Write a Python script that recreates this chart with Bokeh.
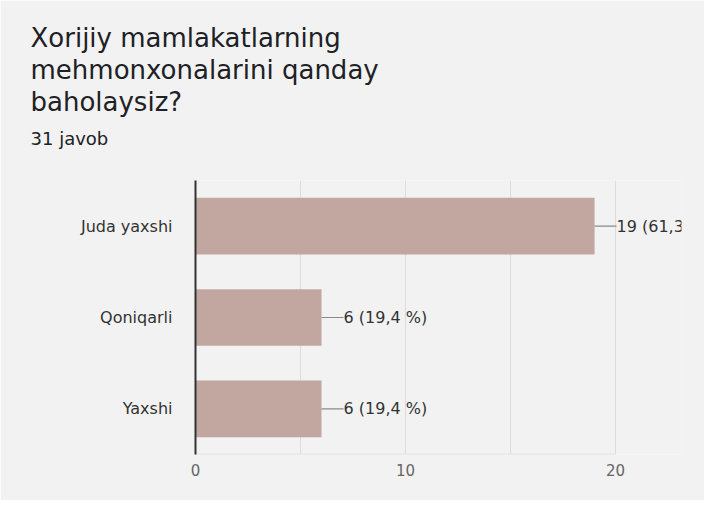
from bokeh.plotting import figure
from bokeh.models import ColumnDataSource, FactorRange, Range1d, FixedTicker, Title
from bokeh.transform import dodge
from bokeh.core.properties import value
from bokeh.embed import file_html
from bokeh.resources import INLINE

categories = ["Juda yaxshi", "Qoniqarli", "Yaxshi"]
counts = [19, 6, 6]
total = 31
title_lines = ["Xorijiy mamlakatlarning", "mehmonxonalarini qanday", "baholaysiz?"]
subtitle = "31 javob"
x_ticks = [0, 10, 20]
grid_ticks = [5, 10, 15, 20]

labels = [f"{c} ({c / total * 100:.1f} %)".replace(".", ",") for c in counts]
src = ColumnDataSource(dict(cat=categories, cnt=counts, lab=labels,
                            lead=[c + 1.05 for c in counts]))
base_src = ColumnDataSource(dict(x0=[x_ticks[0]], x1=[x_ticks[-1]], y=[categories[-1]]))

FONT = "DejaVu Sans"
BG = "#f2f2f2"

p = figure(width=704, height=500, output_backend="svg", toolbar_location=None,
           y_range=FactorRange(factors=categories[::-1], range_padding=0),
           x_range=Range1d(0, 23.14),
           min_border_left=195, min_border_right=23, min_border_top=180, min_border_bottom=46)
p.background_fill_color = BG
p.border_fill_color = BG
p.outline_line_color = None

p.hbar(y="cat", right="cnt", left=0, height=0.62, source=src,
       fill_color="#c2a6a0", line_color=None)
p.segment(x0="cnt", y0="cat", x1="lead", y1="cat", source=src,
          line_color="#8a8a8a", line_width=1.2)
p.text(x="cnt", y="cat", text="lab", source=src, x_offset=22,
       text_baseline="middle", text_align="left", text_font=value(FONT),
       text_font_size="16px", text_color="#333333")
# light baseline from 0 to 20 at the bottom of the frame
p.segment(x0="x0", x1="x1", y0=dodge("y", -0.5, range=p.y_range),
          y1=dodge("y", -0.5, range=p.y_range), source=base_src,
          line_color="#dcdcdc", line_width=1.5)

p.ygrid.grid_line_color = None
p.xgrid.ticker = FixedTicker(ticks=grid_ticks)
p.xgrid.grid_line_color = "#dcdcdc"
p.xgrid.grid_line_width = 1

xa = p.xaxis[0]
xa.ticker = FixedTicker(ticks=x_ticks)
xa.axis_line_color = None
xa.major_tick_line_color = None
xa.minor_tick_line_color = None
xa.major_label_standoff = 3
xa.major_label_text_font = FONT
xa.major_label_text_font_size = "15px"
xa.major_label_text_color = "#666666"

ya = p.yaxis[0]
ya.axis_line_color = "#333333"
ya.axis_line_width = 2
ya.major_tick_line_color = None
ya.minor_tick_line_color = None
ya.major_label_standoff = 17
ya.major_label_text_font = FONT
ya.major_label_text_font_size = "16px"
ya.major_label_text_color = "#333333"

# title block: titles added later sit farther from the frame
p.add_layout(Title(text=" ", align="left", offset=-165, standoff=20,
                   text_font=FONT, text_font_size="1px", text_color=BG), "above")
p.add_layout(Title(text=subtitle, align="left", offset=-165, standoff=18,
                   text_font=FONT, text_font_size="18px", text_color="#202124",
                   text_font_style="normal"), "above")
for txt in title_lines[::-1]:
    p.add_layout(Title(text=txt, align="left", offset=-165, standoff=0,
                       text_font=FONT, text_font_size="26px", text_color="#202124",
                       text_font_style="normal"), "above")

open("out.html", "w").write(file_html(p, INLINE))
